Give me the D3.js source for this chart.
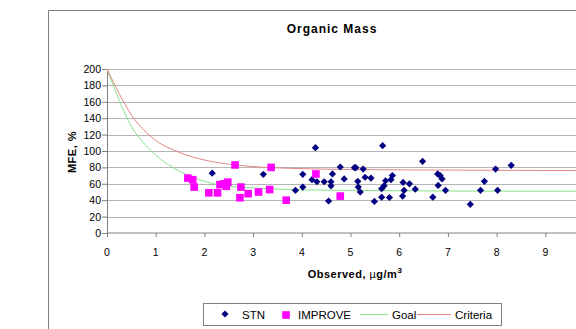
<!DOCTYPE html>
<html>
<head>
<meta charset="utf-8">
<script src="https://cdn.jsdelivr.net/npm/d3@7"></script>
<style>
  body { margin: 0; background: #fff; }
  svg { display: block; font-family: "Liberation Sans", Arial, sans-serif; }
</style>
</head>
<body>
<svg width="576" height="329"></svg>
<script>
// STN points [observed, MFE]
const stnX = [2.16, 3.21, 4.28, 4.02, 4.02, 3.87, 4.21, 4.31, 4.46, 4.55, 4.60, 4.60, 4.63, 4.79,
  4.87, 5.08, 5.11, 5.26, 5.15, 5.30, 5.42, 5.16, 5.20, 5.49, 5.66, 5.86, 5.83, 5.72, 5.69,
  5.64, 5.64, 5.80, 6.08, 6.21, 6.10, 6.07, 6.33, 6.48, 6.69, 6.79, 6.84, 6.88, 6.80, 6.95,
  7.46, 7.67, 7.75, 7.98, 8.02, 8.30];
const stnY = [73, 71.5, 104, 71.5, 56, 52, 65, 62.5, 62.5, 39, 62.5, 57.5, 72, 80.5,
  66, 79.6, 79.6, 78, 63, 68, 67, 56, 50, 38.5, 106.5, 70, 65, 63.7, 57.5,
  54, 43.7, 43.3, 61.7, 60, 52, 45, 53.5, 87.4, 43.7, 72, 70, 66, 58, 52,
  35, 52, 63, 78, 52, 82.5];

// IMPROVE points
const impX = [1.66, 1.76, 1.79, 2.09, 2.27, 2.32, 2.40, 2.48, 2.45, 2.63, 2.75, 2.73, 2.90,
  3.11, 3.37, 3.34, 3.68, 4.29, 4.79];
const impY = [67, 65, 56, 49, 49, 59, 60, 62, 57, 83, 56, 43, 48, 50, 80, 53, 40, 72, 45];

// Goal and Criteria curves
const curveX = [0, 0.25, 0.5, 0.75, 1, 1.5, 2, 2.5, 3, 4, 5, 6, 8, 10];
const goalY = [200, 162, 130, 110, 95, 75, 63, 57, 55, 52.5, 52, 51.5, 51, 51];
const critY = [200, 170, 144, 126, 113, 98, 89, 84, 81, 78.5, 77.5, 77, 76.5, 76];

const yTicks = [0, 20, 40, 60, 80, 100, 120, 140, 160, 180, 200];
const xTicks = [0, 1, 2, 3, 4, 5, 6, 7, 8, 9];

const svg = d3.select("svg");

const margin = { top: 69, left: 107 };
const innerWidth = 487;
const innerHeight = 164;

const xScale = d3.scaleLinear().domain([0, 10]).range([0, innerWidth]);
const yScale = d3.scaleLinear().domain([0, 200]).range([innerHeight, 0]);

// chart area border (right and bottom edges fall outside the picture)
svg.append("path")
  .attr("d", "M48.5,329V10.5H576")
  .attr("fill", "none")
  .attr("stroke", "#808080");

// title
svg.append("text")
  .attr("x", 332)
  .attr("y", 33)
  .attr("text-anchor", "middle")
  .style("font-size", "12px")
  .style("font-weight", "bold")
  .style("letter-spacing", "1px")
  .text("Organic Mass");

const g = svg.append("g")
  .attr("transform", `translate(${margin.left}, ${margin.top})`);

// gridlines
g.append("g")
  .selectAll("line")
  .data(yTicks.filter((d) => d > 0))
  .enter()
  .append("line")
  .attr("x1", 0)
  .attr("x2", 576 - margin.left)
  .attr("y1", (d) => Math.round(yScale(d)) + 0.5)
  .attr("y2", (d) => Math.round(yScale(d)) + 0.5)
  .attr("stroke", "#b4b4b4");

// axes (tick marks and lines only; labels are placed below with the scales)
const xAxis = d3.axisBottom(xScale).tickValues(xTicks).tickSize(4).tickFormat("");
const yAxis = d3.axisLeft(yScale).tickValues(yTicks).tickSize(5).tickFormat("");

const gx = g.append("g")
  .attr("transform", `translate(0, ${innerHeight})`)
  .call(xAxis);
gx.select(".domain").attr("d", `M0.5,0H${576 - margin.left}`);
const gy = g.append("g").call(yAxis);

[gx, gy].forEach((ax) => {
  ax.selectAll("path, line").attr("stroke", "#808080");
  ax.selectAll("text").remove();
});

svg.append("g")
  .selectAll("text")
  .data(xTicks)
  .enter()
  .append("text")
  .attr("x", (d) => margin.left + xScale(d))
  .attr("y", margin.top + innerHeight + 23)
  .attr("text-anchor", "middle")
  .style("font-size", "10.5px")
  .text((d) => d);

svg.append("g")
  .selectAll("text")
  .data(yTicks)
  .enter()
  .append("text")
  .attr("x", margin.left - 6)
  .attr("y", (d) => margin.top + yScale(d) + 4)
  .attr("text-anchor", "end")
  .style("font-size", "10.5px")
  .text((d) => d);

// axis titles
svg.append("text")
  .attr("transform", "translate(76, 152) rotate(-90)")
  .attr("text-anchor", "middle")
  .style("font-size", "11px")
  .style("font-weight", "bold")
  .style("letter-spacing", "0.5px")
  .text("MFE, %");

svg.append("text")
  .attr("x", 355)
  .attr("y", 278)
  .attr("text-anchor", "middle")
  .style("font-size", "11px")
  .style("font-weight", "bold")
  .style("letter-spacing", "0.5px")
  .html('Observed, <tspan style="font-weight:normal">µ</tspan>g/m<tspan dy="-5" style="font-size:8px">3</tspan>');

// curves
const line = d3.line()
  .x((d) => xScale(d[0]))
  .y((d) => yScale(d[1]))
  .curve(d3.curveMonotoneX);

g.append("path")
  .datum(curveX.map((x, i) => [x, goalY[i]]))
  .attr("d", line)
  .attr("fill", "none")
  .attr("stroke", "#88e488")
  .attr("stroke-width", 1);

g.append("path")
  .datum(curveX.map((x, i) => [x, critY[i]]))
  .attr("d", line)
  .attr("fill", "none")
  .attr("stroke", "#e88484")
  .attr("stroke-width", 1);

// markers
const diamond = d3.symbol().type(d3.symbolSquare).size(26);
const square = d3.symbol().type(d3.symbolSquare).size(58);

g.selectAll(".stn")
  .data(stnX.map((x, i) => [x, stnY[i]]))
  .enter()
  .append("path")
  .attr("class", "stn")
  .attr("d", diamond)
  .attr("transform", (d) => `translate(${xScale(d[0])}, ${yScale(d[1])}) rotate(45)`)
  .attr("fill", "#000080");

g.selectAll(".imp")
  .data(impX.map((x, i) => [x, impY[i]]))
  .enter()
  .append("path")
  .attr("class", "imp")
  .attr("d", square)
  .attr("transform", (d) => `translate(${xScale(d[0])}, ${yScale(d[1])})`)
  .attr("fill", "#ff00ff");

// legend
svg.append("rect")
  .attr("x", 203.5)
  .attr("y", 303.5)
  .attr("width", 298)
  .attr("height", 22)
  .attr("fill", "#fff")
  .attr("stroke", "#808080");

svg.append("path")
  .attr("d", diamond)
  .attr("transform", "translate(225, 314) rotate(45)")
  .attr("fill", "#000080");
svg.append("path")
  .attr("d", square)
  .attr("transform", "translate(286, 315)")
  .attr("fill", "#ff00ff");
svg.append("line")
  .attr("x1", 360).attr("x2", 388)
  .attr("y1", 314.5).attr("y2", 314.5)
  .attr("stroke", "#88e488");
svg.append("line")
  .attr("x1", 417).attr("x2", 451)
  .attr("y1", 314.5).attr("y2", 314.5)
  .attr("stroke", "#e88484");

const legendText = [["STN", 242], ["IMPROVE", 298], ["Goal", 392], ["Criteria", 455]];
legendText.forEach(([t, x]) => {
  svg.append("text")
    .attr("x", x)
    .attr("y", 319)
    .style("font-size", "11.5px")
    .text(t);
});
</script>
</body>
</html>
